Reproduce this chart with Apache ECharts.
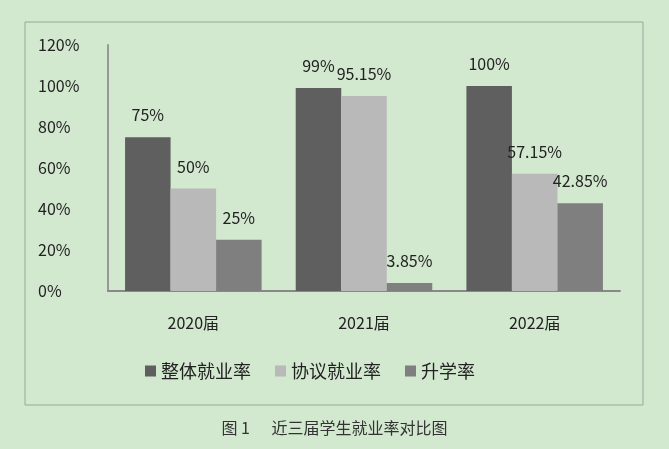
<!DOCTYPE html>
<html><head><meta charset="utf-8">
<script src="https://cdn.jsdelivr.net/npm/echarts@6/dist/echarts.min.js"></script>
<style>html,body{margin:0;padding:0;background:#d2e8cf;}#c{width:669px;height:449px;}</style>
</head><body><div id="c"></div>
<script>
const categories = ['2020届','2021届','2022届'];
const overall = [75, 99, 100];
const agreement = [50, 95.15, 57.15];
const further = [25, 3.85, 42.85];
const overallLabels = ['75%','99%','100%'];
const agreementLabels = ['50%','95.15%','57.15%'];
const furtherLabels = ['25%','3.85%','42.85%'];
const font = 'Noto Sans CJK SC';
const chart = echarts.init(document.getElementById('c'));
function lab(arr){return {show:true,position:'top',distance:14,color:'#222',fontSize:16,fontFamily:font,formatter:p=>arr[p.dataIndex]};}
chart.setOption({
  backgroundColor:'#d2e8cf',
  graphic:[
    {type:'rect',shape:{x:25,y:22,width:618,height:383},style:{fill:'none',stroke:'#9aa89a',lineWidth:1}},
    {type:'text',left:'center',top:420,style:{text:'图 1      近三届学生就业率对比图',fill:'#333',font:'16px "Noto Sans CJK SC"'}}
  ],
  grid:{left:108,right:49,top:45,bottom:158},
  legend:{bottom:64,left:140,itemWidth:11,itemHeight:11,itemGap:24,icon:'rect',
    textStyle:{fontSize:18,color:'#222',fontFamily:font},
    data:['整体就业率','协议就业率','升学率']},
  xAxis:{type:'category',data:categories,
    axisLine:{lineStyle:{color:'#888',width:2}},axisTick:{show:false},
    axisLabel:{fontSize:16,color:'#222',fontFamily:font,margin:24}},
  yAxis:{type:'value',min:0,max:120,interval:20,
    axisLine:{show:true,lineStyle:{color:'#999',width:2}},splitLine:{show:false},
    axisLabel:{formatter:'{value}%',fontSize:16,color:'#222',fontFamily:font,align:'left',margin:70}},
  series:[
    {name:'整体就业率',type:'bar',data:overall,itemStyle:{color:'#5f5f5f'},barGap:'0%',barCategoryGap:'20%',label:lab(overallLabels)},
    {name:'协议就业率',type:'bar',data:agreement,itemStyle:{color:'#b9b9b9'},label:lab(agreementLabels)},
    {name:'升学率',type:'bar',data:further,itemStyle:{color:'#7f7f7f'},label:lab(furtherLabels)}
  ]
});
</script></body></html>
